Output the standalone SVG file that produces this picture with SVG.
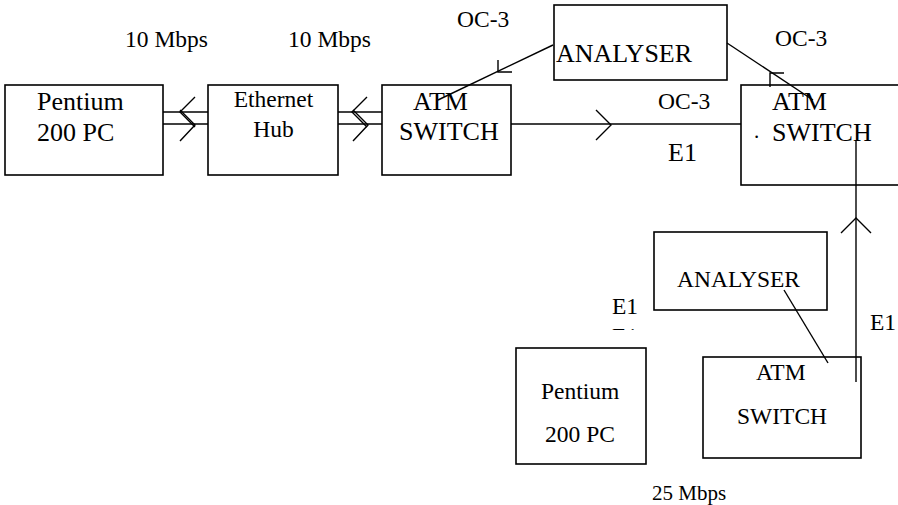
<svg xmlns="http://www.w3.org/2000/svg" width="898" height="505" viewBox="0 0 898 505">
<style>
.box{fill:none;stroke:#000;stroke-width:1.6}
.ln{fill:none;stroke:#000;stroke-width:1.4}
text{fill:#000}
.l{font-size:26px}
.m{font-size:23.5px}
.s{font-size:21px}
</style>
<defs>
<clipPath id="clipE1"><rect x="600" y="320" width="60" height="10"/></clipPath>
</defs>
<rect width="898" height="505" fill="#fff"/>
<g font-family="'Liberation Serif', Tinos, 'Times New Roman', 'DejaVu Serif', serif">
<g id="pc1">
<rect class="box" x="5" y="85" width="158" height="90"/>
<text class="l" x="37" y="110">Pentium</text>
<text class="l" x="37" y="141">200 PC</text>
</g>
<g id="hub">
<rect class="box" x="208" y="85" width="130" height="90"/>
<text class="m" x="273.5" y="107" text-anchor="middle">Ethernet</text>
<text class="m" x="273.5" y="137" text-anchor="middle">Hub</text>
</g>
<g id="atm1">
<rect class="box" x="382" y="85" width="129" height="90"/>
<text class="l" x="413" y="110">ATM</text>
<text class="l" x="399" y="140">SWITCH</text>
</g>
<g id="analyser1">
<rect class="box" x="554" y="5" width="173" height="75"/>
<text class="l" x="556" y="62">ANALYSER</text>
</g>
<g id="atm2">
<rect class="box" x="741" y="85" width="170" height="100"/>
<text class="l" x="772" y="110">ATM</text>
<text class="l" x="772" y="141">SWITCH</text>
<text class="s" x="754" y="138">.</text>
</g>
<g id="analyser2">
<rect class="box" x="654" y="232" width="173" height="78"/>
<text class="m" x="677" y="287">ANALYSER</text>
</g>
<g id="atm3">
<rect class="box" x="703" y="357" width="158" height="101"/>
<text class="m" x="756" y="380">ATM</text>
<text class="m" x="737" y="424">SWITCH</text>
</g>
<g id="pc2">
<rect class="box" x="516" y="348" width="130" height="116"/>
<text class="m" x="541" y="399">Pentium</text>
<text class="m" x="545" y="442">200 PC</text>
</g>
<g id="connectors">
<line class="ln" x1="163" y1="112" x2="208" y2="112"/>
<line class="ln" x1="163" y1="124" x2="208" y2="124"/>
<polyline class="ln" points="195,97 180,112 195,127"/>
<polyline class="ln" points="180,110 195,125 180,141"/>
<line class="ln" x1="338" y1="112" x2="382" y2="112"/>
<line class="ln" x1="338" y1="124" x2="382" y2="124"/>
<polyline class="ln" points="367,97 352,112 367,127"/>
<polyline class="ln" points="353,110 368,125 353,141"/>
<line class="ln" x1="511" y1="124" x2="741" y2="124"/>
<polyline class="ln" points="596,110 611,125 596,140"/>
<line class="ln" x1="553" y1="45" x2="438" y2="100"/>
<polyline class="ln" points="498,60 498,72 512,72"/>
<line class="ln" x1="727" y1="43" x2="813" y2="100"/>
<polyline class="ln" points="770,87 770,73 784,73"/>
<line class="ln" x1="856" y1="140" x2="856" y2="382"/>
<polyline class="ln" points="841,233 856,218 871,233"/>
<line class="ln" x1="784" y1="290" x2="828" y2="363"/>
</g>
<g id="labels">
<text class="m" x="125" y="47">10 Mbps</text>
<text class="m" x="288" y="47">10 Mbps</text>
<text class="m" x="457" y="27">OC-3</text>
<text class="m" x="775" y="46">OC-3</text>
<text class="m" x="658" y="109">OC-3</text>
<text class="l" x="668" y="161">E1</text>
<text class="m" x="612" y="314">E1</text>
<text class="m" x="612" y="344" clip-path="url(#clipE1)">E1</text>
<text class="m" x="870" y="330">E1</text>
<text class="s" x="652" y="500">25 Mbps</text>
</g>
</g>
</svg>
